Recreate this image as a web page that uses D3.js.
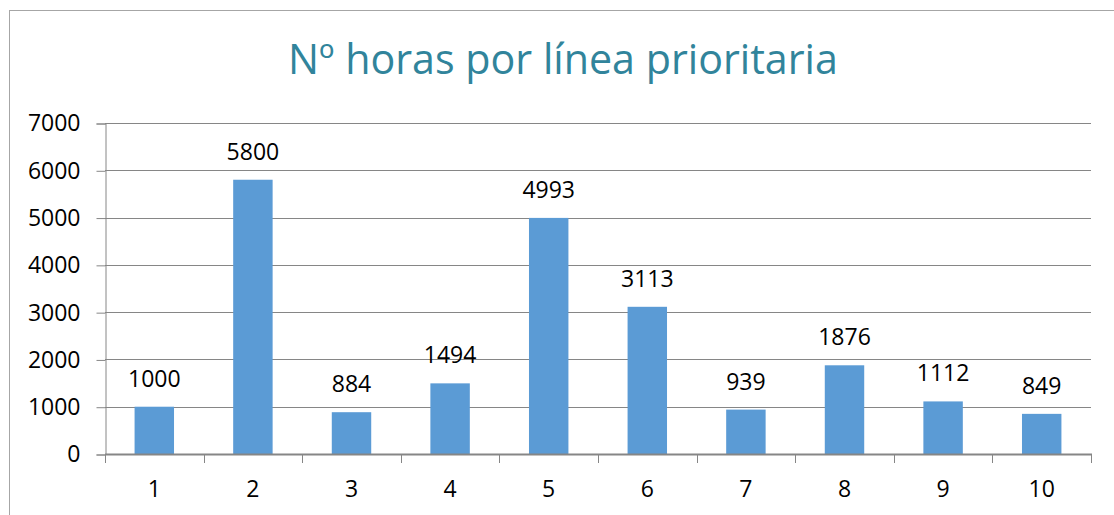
<!DOCTYPE html>
<html>
<head>
<meta charset="utf-8">
<script src="https://cdn.jsdelivr.net/npm/d3@7"></script>
<style>
  body { margin: 0; background: #fff; }
  svg { display: block; font-family: "Open Sans", sans-serif; }
</style>
</head>
<body>
<div id="main"></div>
<script>
// ---------------- data -----------------//
let titleText = "Nº horas por línea prioritaria";
let categories = ["1", "2", "3", "4", "5", "6", "7", "8", "9", "10"];
let hours = [1000, 5800, 884, 1494, 4993, 3113, 939, 1876, 1112, 849];
let yTicks = [0, 1000, 2000, 3000, 4000, 5000, 6000, 7000];

// ---------------- layout -----------------//
let width = 1114;
let height = 515;
let plotLeft = 105, plotRight = 1091, plotTop = 123, plotBottom = 454;

let svg = d3.select("#main")
  .append("svg")
  .attr("width", width)
  .attr("height", height);

// chart frame (runs off the right/bottom edges)
svg.append("rect")
  .attr("x", 9.5)
  .attr("y", 10.5)
  .attr("width", width + 20)
  .attr("height", height + 20)
  .attr("fill", "none")
  .attr("stroke", "#a6a6a6")
  .attr("stroke-width", 1);

let x = d3.scaleBand()
  .domain(categories)
  .range([plotLeft, plotRight])
  .paddingInner(0.6)
  .paddingOuter(0.3);

let y = d3.scaleLinear()
  .domain([0, 7000])
  .range([plotBottom, plotTop]);

// gridlines
svg.append("g")
  .selectAll("line")
  .data(yTicks.filter(d => d > 0))
  .join("line")
  .attr("x1", plotLeft)
  .attr("x2", plotRight)
  .attr("y1", d => Math.round(y(d)) + 0.5)
  .attr("y2", d => Math.round(y(d)) + 0.5)
  .attr("stroke", "#868686")
  .attr("stroke-width", 1);

// y axis
let yAxis = d3.axisLeft(y)
  .tickValues(yTicks)
  .tickSize(9)
  .tickPadding(16)
  .tickFormat(d3.format("d"));

let yg = svg.append("g")
  .attr("transform", `translate(${plotLeft + 0.5}, 0.5)`)
  .call(yAxis);
yg.select(".domain").attr("stroke", "#868686");
yg.selectAll(".tick line").attr("stroke", "#868686");
yg.selectAll(".tick text")
  .attr("font-family", "Open Sans")
  .attr("font-size", 23)
  .attr("fill", "#000");

// bars
svg.append("g")
  .selectAll("rect")
  .data(hours)
  .join("rect")
  .attr("x", (d, i) => x(categories[i]))
  .attr("y", d => y(d))
  .attr("width", x.bandwidth())
  .attr("height", d => plotBottom - y(d))
  .attr("fill", "#5b9bd5");

// x axis with boundary ticks
let step = x.step();
let boundaries = d3.range(categories.length + 1).map(i => plotLeft + i * (plotRight - plotLeft) / categories.length);

svg.append("g")
  .selectAll("line")
  .data(boundaries)
  .join("line")
  .attr("x1", d => Math.round(d) + 0.5)
  .attr("x2", d => Math.round(d) + 0.5)
  .attr("y1", plotBottom)
  .attr("y2", plotBottom + 9)
  .attr("stroke", "#868686");

svg.append("line")
  .attr("x1", plotLeft)
  .attr("x2", plotRight + 1)
  .attr("y1", plotBottom + 0.5)
  .attr("y2", plotBottom + 0.5)
  .attr("stroke", "#868686")
  .attr("stroke-width", 2);

svg.append("g")
  .selectAll("text")
  .data(categories)
  .join("text")
  .attr("x", d => x(d) + x.bandwidth() / 2)
  .attr("y", 497)
  .attr("text-anchor", "middle")
  .attr("font-size", 23)
  .attr("fill", "#000")
  .text(d => d);

// data labels
svg.append("g")
  .selectAll("text")
  .data(hours)
  .join("text")
  .attr("x", (d, i) => x(categories[i]) + x.bandwidth() / 2)
  .attr("y", d => y(d) - 20)
  .attr("text-anchor", "middle")
  .attr("font-size", 23)
  .attr("fill", "#000")
  .text(d => d);

// title
let title = svg.append("text")
  .attr("x", 563)
  .attr("y", 74)
  .attr("text-anchor", "middle")
  .attr("font-size", 42)
  .attr("fill", "#31849b")
  .text(titleText);
let tw = title.node().getComputedTextLength();
title.attr("font-size", 42 * 550 / tw);
</script>
</body>
</html>
